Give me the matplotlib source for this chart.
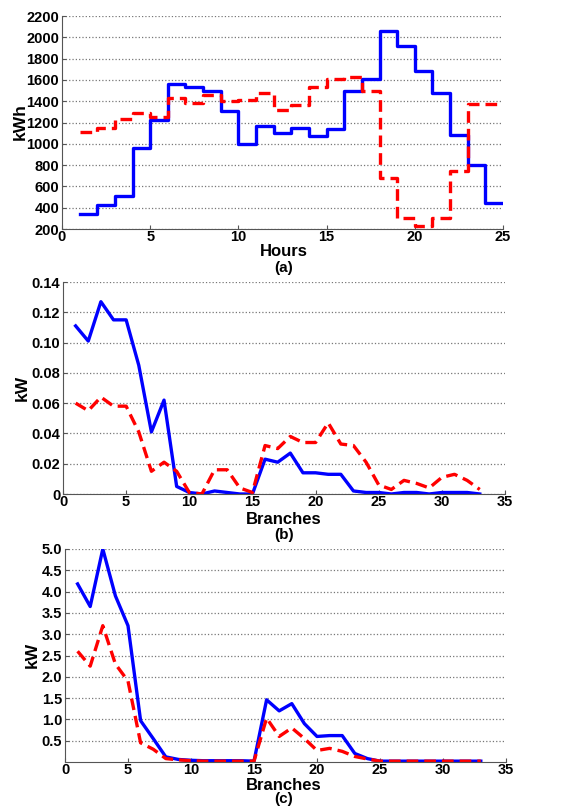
import matplotlib.pyplot as plt
import numpy as np

plt.rcParams['font.family'] = ['Liberation Sans', 'DejaVu Sans']
plt.rcParams['font.weight'] = 'bold'

# (a) hourly energy, kWh (value held from hour h to h+1)
hours = np.arange(1, 25)
energy_blue = [340, 430, 510, 960, 1220, 1560, 1530, 1500, 1310, 1000, 1170, 1100,
               1150, 1075, 1140, 1495, 1610, 2060, 1915, 1680, 1480, 1085, 800, 440]
energy_red = [1115, 1150, 1235, 1290, 1255, 1430, 1385, 1460, 1400, 1410, 1475, 1320,
              1365, 1530, 1610, 1625, 1500, 680, 300, 225, 300, 740, 1375, 1375]

# (b) branch losses, kW
branches = np.arange(1, 34)
loss_b_blue = [0.111, 0.101, 0.127, 0.115, 0.115, 0.085, 0.041, 0.062, 0.005, 0.001, 0.0,
               0.002, 0.001, 0.0, 0.0, 0.023, 0.021, 0.027, 0.014, 0.014, 0.013, 0.013,
               0.002, 0.001, 0.001, 0.0, 0.001, 0.001, 0.0, 0.001, 0.001, 0.001, 0.0]
loss_b_red = [0.060, 0.055, 0.064, 0.058, 0.058, 0.041, 0.015, 0.021, 0.015, 0.001, 0.0,
              0.016, 0.016, 0.004, 0.001, 0.032, 0.030, 0.038, 0.034, 0.034, 0.047, 0.033,
              0.032, 0.021, 0.006, 0.003, 0.009, 0.007, 0.004, 0.011, 0.013, 0.009, 0.003]

# (c) branch losses, kW
loss_c_blue = [4.18, 3.65, 5.0, 3.9, 3.2, 0.97, 0.55, 0.12, 0.06, 0.04, 0.03, 0.03, 0.03,
               0.03, 0.02, 1.46, 1.2, 1.37, 0.9, 0.6, 0.62, 0.62, 0.2, 0.08, 0.02, 0.02,
               0.02, 0.02, 0.02, 0.02, 0.02, 0.02, 0.02]
loss_c_red = [2.6, 2.25, 3.2, 2.3, 1.9, 0.45, 0.3, 0.08, 0.05, 0.03, 0.02, 0.02, 0.02,
              0.02, 0.02, 1.03, 0.6, 0.8, 0.55, 0.27, 0.32, 0.25, 0.13, 0.07, 0.02, 0.02,
              0.02, 0.02, 0.02, 0.02, 0.02, 0.02, 0.02]

W, H = 564, 806
fig = plt.figure(figsize=(W / 100, H / 100), dpi=100)


def axes_px(left, top, right, bottom):
    return fig.add_axes([left / W, 1 - bottom / H, (right - left) / W, (bottom - top) / H])


def style(ax):
    ax.spines['top'].set_visible(False)
    ax.spines['right'].set_visible(False)
    ax.spines['left'].set_color('#555555')
    ax.spines['bottom'].set_color('#555555')
    ax.yaxis.grid(True, linestyle=':', color='#777777', linewidth=0.9)
    ax.set_axisbelow(True)
    ax.tick_params(direction='in', length=3, labelsize=10.5, pad=2, color='#555555')
    ax.tick_params(axis='x', pad=1)
    for lab in ax.get_xticklabels() + ax.get_yticklabels():
        lab.set_fontweight('bold')


def labels(xlab, xlab_y, tag, tag_y, ylab, ylab_x, ylab_y):
    fig.text(xlab_x / W, 1 - xlab_y / H, xlab, ha='center', va='center',
             fontsize=12, fontweight='bold')
    fig.text(xlab_x / W, 1 - tag_y / H, tag, ha='center', va='center',
             fontsize=11, fontweight='bold')
    fig.text(ylab_x / W, 1 - ylab_y / H, ylab, ha='center', va='center',
             rotation=90, fontsize=12.5, fontweight='bold')


xlab_x = 284

# panel (a)
ax1 = axes_px(62, 16, 503, 229)
ax1.step(np.append(hours, 25), np.append(energy_blue, energy_blue[-1]), where='post',
         color='#0000ff', lw=2.4)
ax1.step(np.append(hours, 25), np.append(energy_red, energy_red[-1]), where='post',
         color='#ff0000', lw=2.4, linestyle='--', dashes=(3.5, 1.8))
ax1.set_xlim(0, 25)
ax1.set_ylim(200, 2200)
ax1.set_xticks(np.arange(0, 26, 5))
ax1.set_yticks(np.arange(200, 2201, 200))
style(ax1)
labels('Hours', 252, '(a)', 268, 'kWh', 20, 122)

# panel (b)
ax2 = axes_px(63, 282, 505, 494)
ax2.plot(branches, loss_b_blue, color='#0000ff', lw=2.4)
ax2.plot(branches, loss_b_red, color='#ff0000', lw=2.4, linestyle='--', dashes=(3.5, 1.8))
ax2.set_xlim(0, 35)
ax2.set_ylim(0, 0.14)
ax2.set_xticks(np.arange(0, 36, 5))
ax2.set_yticks(np.arange(0, 0.141, 0.02))
ax2.set_yticklabels(['0'] + ['%.2f' % v for v in np.arange(0.02, 0.141, 0.02)])
style(ax2)
labels('Branches', 520, '(b)', 535, 'kW', 22, 388)

# panel (c)
ax3 = axes_px(65, 549, 506, 762)
ax3.plot(branches, loss_c_blue, color='#0000ff', lw=2.4)
ax3.plot(branches, loss_c_red, color='#ff0000', lw=2.4, linestyle='--', dashes=(3.5, 1.8))
ax3.set_xlim(0, 35)
ax3.set_ylim(0, 5)
ax3.set_xticks(np.arange(0, 36, 5))
ax3.set_yticks(np.arange(0.5, 5.01, 0.5))
ax3.set_yticklabels(['%.1f' % v for v in np.arange(0.5, 5.01, 0.5)])
style(ax3)
labels('Branches', 785, '(c)', 799, 'kW', 32, 655)

fig.savefig('out.png', dpi=100)
